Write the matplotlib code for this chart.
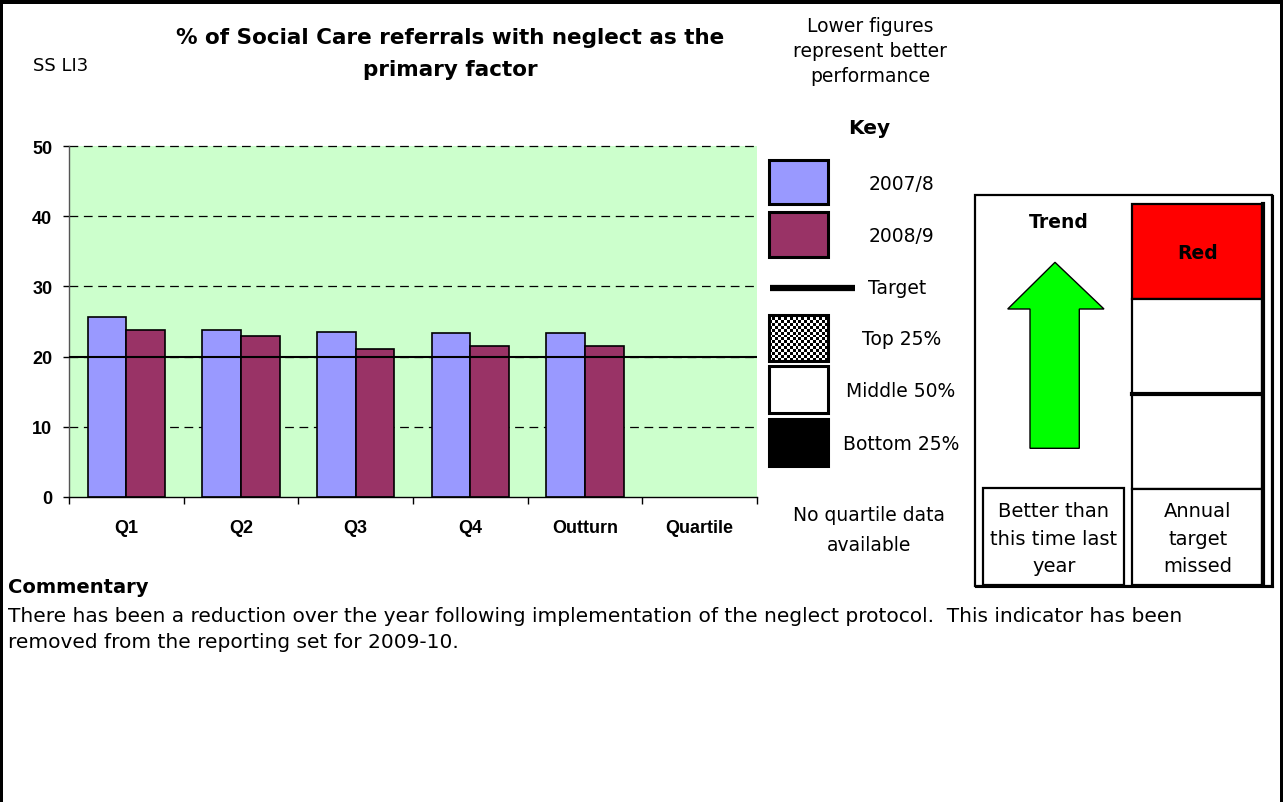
import numpy as np
import matplotlib
matplotlib.use("Agg")
import matplotlib.pyplot as plt
from matplotlib.patches import Rectangle, Polygon

# ---------------- data ----------------
categories = ["Q1", "Q2", "Q3", "Q4", "Outturn", "Quartile"]
series_names = ["2007/8", "2008/9"]
values_2007_8 = [25.7, 23.8, 23.55, 23.3, 23.3]
values_2008_9 = [23.8, 23.0, 21.05, 21.5, 21.5]
target_value = 20
y_ticks = [0, 10, 20, 30, 40, 50]
title_lines = ["% of Social Care referrals with neglect as the", "primary factor"]
indicator_code = "SS LI3"
polarity_lines = ["Lower figures", "represent better", "performance"]
quartile_labels = ["Top 25%", "Middle 50%", "Bottom 25%"]
no_quartile_lines = ["No quartile data", "available"]
trend_lines = ["Better than", "this time last", "year"]
status_lines = ["Annual", "target", "missed"]
status_word = "Red"
commentary_lines = [
    "There has been a reduction over the year following implementation of the neglect protocol.  This indicator has been",
    "removed from the reporting set for 2009-10.",
]

W, H = 1283, 803
BLUE = "#9999FF"
MAROON = "#993366"
TXT = "DejaVu Sans"

fig = plt.figure(figsize=(W / 100, H / 100), dpi=100)
fig.patch.set_facecolor("white")

# ---------------- chart ----------------
ax = fig.add_axes([69 / W, 1 - 498 / H, 688 / W, 351 / H])
ax.set_facecolor("#CCFFCC")
n = len(values_2007_8)
xc = np.arange(n) + 0.5
bw = 0.336
ax.bar(xc - bw / 2, values_2007_8, bw, color=BLUE, edgecolor="black", linewidth=1.2, zorder=2)
ax.bar(xc + bw / 2, values_2008_9, bw, color=MAROON, edgecolor="black", linewidth=1.2, zorder=2)
for t in y_ticks[1:]:
    ax.axhline(t, color="black", linewidth=0.9, linestyle=(0, (7, 4.5)), zorder=1, clip_on=False)
ax.axhline(target_value, color="black", linewidth=1.5, zorder=3)
ax.set_xlim(0, len(categories))
ax.set_ylim(y_ticks[0], y_ticks[-1])
ax.set_yticks(y_ticks)
ax.set_xticks(np.arange(len(categories) + 1))
ax.set_xticklabels([])
ax.set_xticks(np.arange(len(categories)) + 0.5, minor=True)
ax.set_xticklabels(categories, minor=True)
tick_font = dict(family="Liberation Sans", weight="bold", size=13)
for lab in ax.get_xticklabels(minor=True) + ax.get_yticklabels():
    lab.set_fontproperties(matplotlib.font_manager.FontProperties(**tick_font))
ax.tick_params(axis="x", which="major", direction="out", length=5, width=1, color="black")
ax.tick_params(axis="x", which="minor", length=0, pad=16)
ax.tick_params(axis="y", direction="out", length=4, width=1, pad=8, color="black")
for s in ["top", "right"]:
    ax.spines[s].set_visible(False)
ax.spines["left"].set_color("#555555")
ax.spines["bottom"].set_color("black")
ax.spines["left"].set_linewidth(1)
ax.spines["bottom"].set_linewidth(1)

# ---------------- overlay (pixel coordinates) ----------------
ov = fig.add_axes([0, 0, 1, 1], zorder=5)
ov.set_xlim(0, W)
ov.set_ylim(H, 0)
ov.set_axis_off()

def txt(x, y, s, size=13.5, weight="normal", ha="center", va="baseline"):
    ov.text(x, y, s, fontsize=size, fontweight=weight, ha=ha, va=va, family=TXT, color="black")

# frame
ov.add_patch(Rectangle((0, 0), W, 5, facecolor="black", edgecolor="none"))
ov.add_patch(Rectangle((0, 0), 3, H, facecolor="black", edgecolor="none"))
ov.add_patch(Rectangle((W - 3.5, 0), 3.5, H, facecolor="black", edgecolor="none"))

# header
txt(33, 71, indicator_code, size=13, ha="left")
txt(450, 44, title_lines[0], size=15.5, weight="bold")
txt(450, 76.5, title_lines[1], size=15.5, weight="bold")
for yb, s in zip([31.5, 57, 82.5], polarity_lines):
    txt(870, yb, s, size=13.5)

# key
txt(869.5, 134.5, "Key", size=14.5, weight="bold")
sw_x0, sw_x1 = 769.3, 828.3
def swatch(y0, y1, fc):
    ov.add_patch(Rectangle((sw_x0, y0), sw_x1 - sw_x0, y1 - y0, facecolor=fc, edgecolor="black", linewidth=2.2))
swatch(160.7, 205, BLUE)
swatch(213.3, 257.7, MAROON)
txt(902, 189.5, series_names[0])
txt(902, 242, series_names[1])
ov.plot([770, 855], [288.7, 288.7], color="black", linewidth=4.5, solid_capstyle="butt")
txt(868, 294, "Target", ha="left")
checker = (np.indices((16, 20)).sum(axis=0) % 2).astype(float)
ov.imshow(checker, cmap="gray", interpolation="nearest", extent=(sw_x0, sw_x1, 362.3, 315.7), aspect="auto", zorder=2)
ov.add_patch(Rectangle((sw_x0, 315.7), sw_x1 - sw_x0, 46.6, facecolor="none", edgecolor="black", linewidth=2.2, zorder=3))
swatch(367.3, 414, "white")
swatch(420, 467.3, "black")
txt(902, 345, quartile_labels[0])
txt(901, 397, quartile_labels[1])
txt(901, 450.5, quartile_labels[2])
txt(869, 521.5, no_quartile_lines[0])
txt(869, 551.5, no_quartile_lines[1])
ov.set_xlim(0, W)
ov.set_ylim(H, 0)

# trend / status panel
ov.add_patch(Rectangle((975, 196), 297, 391, facecolor="white", edgecolor="black", linewidth=1.6, zorder=1))
ov.plot([1272.5, 1272.5], [197, 588], color="black", linewidth=1.5, zorder=1)
ov.plot([976, 1272.5], [588, 588], color="black", linewidth=1.5, zorder=1)
txt(1059, 227.5, "Trend", size=13.5, weight="bold")
arrow = Polygon([(1055, 263.3), (1104, 310), (1079.3, 310), (1079.3, 449.3),
                 (1030, 449.3), (1030, 310), (1007.7, 310)],
                closed=True, facecolor="#00FF00", edgecolor="black", linewidth=1.0, zorder=3)
ov.add_patch(arrow)
ov.add_patch(Rectangle((983.3, 489.3), 140.7, 96.7, facecolor="white", edgecolor="black", linewidth=1.6, zorder=3))
for yb, s in zip([517.3, 545, 572], trend_lines):
    txt(1054, yb, s, size=14)

cx0, cx1 = 1131.7, 1261.7
ov.add_patch(Rectangle((cx0, 205), cx1 - cx0, 95, facecolor="#FF0000", edgecolor="black", linewidth=1.6, zorder=3))
ov.add_patch(Rectangle((cx0, 300), cx1 - cx0, 95, facecolor="white", edgecolor="black", linewidth=1.6, zorder=3))
ov.add_patch(Rectangle((cx0, 395), cx1 - cx0, 95, facecolor="white", edgecolor="black", linewidth=1.6, zorder=3))
ov.add_patch(Rectangle((cx0, 490), cx1 - cx0, 96, facecolor="white", edgecolor="black", linewidth=1.6, zorder=3))
ov.plot([cx0, cx1], [395, 395], color="black", linewidth=3, zorder=4)
ov.plot([cx1 + 1, cx1 + 1], [205, 586], color="black", linewidth=3, zorder=4)
txt(1198, 259, status_word, size=13.5, weight="bold")
for yb, s in zip([517.3, 545, 572], status_lines):
    txt(1198, yb, s, size=14)

# commentary
txt(8, 593, "Commentary", size=14, weight="bold", ha="left")
txt(8, 622, commentary_lines[0], size=14.5, ha="left")
txt(8, 648.5, commentary_lines[1], size=14.5, ha="left")

fig.savefig("out.png", dpi=100)
